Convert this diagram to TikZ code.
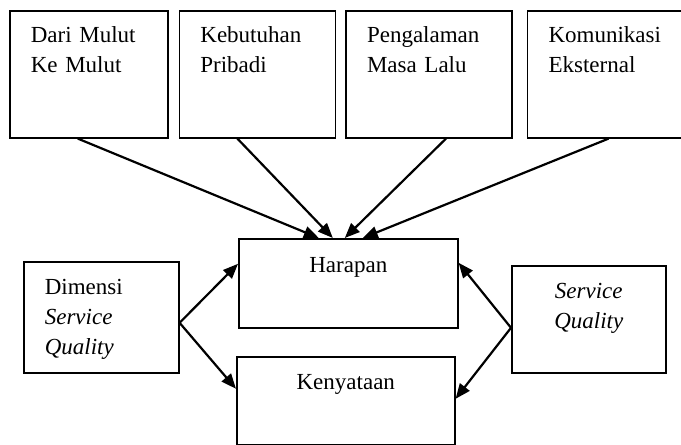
\documentclass[tikz,border=0pt]{standalone}
\usepackage{fontspec}
\setmainfont{Liberation Serif}
\usetikzlibrary{arrows.meta,positioning}

\tikzset{
  box/.style={draw, line width=0.8pt, anchor=north west, inner ysep=0pt,
    font=\fontsize{11.5}{15}\selectfont},
  topbox/.style={box, align=left, inner xsep=10.5pt, text height=16pt, text depth=47.5pt},
  midbox/.style={box, align=center, inner xsep=0pt},
  link/.style={-{Triangle[length=7.5pt,width=6pt]}, line width=1.1pt},
}

\begin{document}
\begin{tikzpicture}[x=0.5pt,y=-0.5pt]
  \useasboundingbox (0,0) rectangle (681,445);
  % sumber harapan
  \node[topbox, text width=58pt] (mulut)                          at (9,10) {Dari Mulut\\Ke Mulut};
  \node[topbox, text width=57pt] (pribadi)   [right=5pt of mulut]   {Kebutuhan\\Pribadi};
  \node[topbox, text width=62pt] (masalalu)  [right=4.5pt of pribadi] {Pengalaman\\Masa Lalu};
  \node[topbox, text width=57pt] (eksternal) [right=7pt of masalalu] {Komunikasi\\Eksternal};
  % harapan dan kenyataan
  \node[midbox, text width=109.5pt, text height=17pt, text depth=27.5pt] (harapan)   at (238,238) {Harapan};
  \node[midbox, text width=109pt, text height=16.5pt, text depth=27.5pt] (kenyataan) at (236,356) {Kenyataan};
  \node[box, align=left, inner xsep=10.5pt, text width=56.5pt, text height=16.5pt, text depth=39pt]
    (dimensi) at (23,261) {Dimensi\\\textit{Service}\\\textit{Quality}};
  \node[midbox, text width=77pt, text height=16.5pt, text depth=37pt]
    (service) at (511,265) {\textit{Service}\\\textit{Quality}};
  \draw[link] ([xshift=-5.5pt]mulut.south)    -- ([xshift=-14.75pt]harapan.north);
  \draw[link] ([xshift=-10pt]pribadi.south)   -- ([xshift=-7.75pt]harapan.north);
  \draw[link] ([xshift=8.5pt]masalalu.south)  -- ([xshift=-1.75pt]harapan.north);
  \draw[link] ([xshift=1.5pt]eksternal.south) -- ([xshift=7.25pt]harapan.north);
  \draw[link] ([yshift=-2.75pt]dimensi.east) -- ([yshift=9.75pt]harapan.west);
  \draw[link] ([yshift=-2.75pt]dimensi.east) -- ([yshift=6pt]kenyataan.west);
  \draw[link] ([yshift=-4.25pt]service.west) -- ([yshift=10.25pt]harapan.east);
  \draw[link] ([yshift=-4.25pt]service.west) -- ([yshift=1pt]kenyataan.east);
\end{tikzpicture}
\end{document}
